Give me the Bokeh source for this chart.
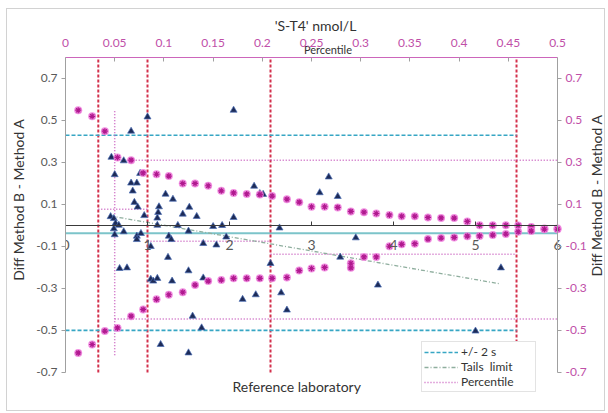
from math import pi

from bokeh.plotting import figure
from bokeh.models import (Range1d, LinearAxis, FixedTicker, Label, Legend,
                          LegendItem)
from bokeh.embed import file_html
from bokeh.resources import INLINE

FONT = "Lato"
GREY_TXT = "#595959"
TITLE_TXT = "#333333"
MAGENTA_TXT = "#c04fa8"

# ---- axis ticks -----------------------------------------------------------
x_ticks = [0, 1, 2, 3, 4, 5, 6]
x_tick_labels = ["0", "1", "2", "3", "4", "5", "6"]
y_ticks = [-0.7, -0.5, -0.3, -0.1, 0.1, 0.3, 0.5, 0.7]
y_tick_labels = ["-0.7", "-0.5", "-0.3", "-0.1", "0.1", "0.3", "0.5", "0.7"]
pct_ticks = [0, 0.05, 0.1, 0.15, 0.2, 0.25, 0.3, 0.35, 0.4, 0.45, 0.5]
pct_tick_labels = ["0", "0.05", "0.1", "0.15", "0.2", "0.25", "0.3", "0.35",
                   "0.4", "0.45", "0.5"]

# ---- paired differences (reference laboratory value, B - A) ---------------
diff_x = [2.05, 1.00, 0.80, 0.56, 0.71, 0.60, 0.91, 0.80, 0.87, 0.82,
          1.22, 1.31, 0.84, 0.88, 1.14, 1.51, 2.30, 0.96, 1.13, 1.12,
          1.12, 1.43, 1.60, 1.37, 0.55, 0.59, 0.61, 0.65, 0.59, 0.71,
          0.60, 0.87, 0.92, 0.87, 1.26, 1.29, 1.04, 1.80, 1.91, 1.84,
          1.96, 1.68, 1.50, 2.05, 1.25, 0.66, 0.75, 1.04, 1.07, 1.12,
          1.30, 1.50, 1.68, 1.55, 1.66, 1.16, 1.50, 2.16, 2.32, 2.37,
          2.41, 2.61, 2.50, 2.63, 2.70, 3.10, 3.21, 3.32, 3.54, 3.35,
          3.81, 5.31, 5.00]
diff_y = [0.549, 0.517, 0.449, 0.325, 0.308, 0.242, 0.248, 0.202, 0.202, 0.164,
          0.149, 0.125, 0.110, 0.088, 0.089, 0.087, 0.187, 0.047, 0.062, 0.035,
          0.001, 0.054, 0.043, 0.000, 0.042, 0.033, 0.010, 0.001, -0.016, -0.030,
          -0.044, -0.051, -0.038, -0.067, -0.051, -0.067, -0.100, -0.005, 0.000, -0.093,
          -0.055, -0.086, -0.027, 0.038, -0.152, -0.205, -0.202, -0.256, -0.265, -0.252,
          -0.265, -0.216, -0.250, -0.432, -0.488, -0.567, -0.607, -0.352, -0.330, 0.152,
          0.148, -0.012, -0.181, -0.321, -0.403, 0.156, 0.231, 0.138, -0.059, -0.151,
          -0.284, -0.202, -0.503]

# ---- percentile curves -----------------------------------------------------
pct_x = [0.155, 0.325, 0.48, 0.634, 0.80, 0.947, 1.11, 1.26, 1.43, 1.58,
         1.74, 1.90, 2.05, 2.21, 2.37, 2.52, 2.70, 2.85, 3.00, 3.16,
         3.32, 3.48, 3.64, 3.79, 3.95, 4.10, 4.26, 4.42, 4.58, 4.74,
         4.90, 5.05, 5.21, 5.37, 5.52, 5.68, 5.84, 6.00]
pct_upper = [0.549, 0.52, 0.449, 0.324, 0.311, 0.25, 0.244, 0.235, 0.20, 0.20,
             0.189, 0.165, 0.155, 0.15, 0.147, 0.14, 0.125, 0.111, 0.089, 0.089,
             0.086, 0.067, 0.063, 0.057, 0.05, 0.044, 0.044, 0.038, 0.036, 0.035,
             0.019, 0.001, 0.001, 0.001, 0.0, -0.007, -0.014, -0.014]
pct_lower_x = [0.155, 0.325, 0.48, 0.634, 0.80, 0.947, 1.11, 1.26, 1.43, 1.58,
               1.74, 1.90, 2.05, 2.21, 2.37, 2.52, 2.70, 2.85, 3.00, 3.16,
               3.48, 3.48, 3.64, 3.79, 3.95, 4.10, 4.26, 4.42, 4.58, 4.74,
               4.90, 5.05, 5.21, 5.37, 5.52, 5.68, 5.84, 6.00]
pct_lower = [-0.607, -0.567, -0.503, -0.488, -0.432, -0.40, -0.352, -0.33, -0.318, -0.284,
             -0.265, -0.26, -0.252, -0.252, -0.252, -0.252, -0.248, -0.215, -0.205, -0.20,
             -0.202, -0.18, -0.15, -0.15, -0.099, -0.09, -0.087, -0.065, -0.06, -0.057,
             -0.051, -0.05, -0.046, -0.041, -0.03, -0.027, -0.018, -0.018]

# ---- reference lines -------------------------------------------------------
mean_diff = -0.037
sd2_upper = 0.43
sd2_lower = -0.50
sd2_end = 5.5
limit_x = [0.4, 1.0, 2.5, 5.5]
tails_x = [0.55, 5.3]
tails_y = [0.045, -0.278]
pband_x0 = [0.6, 0.4, 1.0, 2.5, 0.6]
pband_x1 = [6.0, 1.0, 2.5, 5.5, 6.0]
pband_y = [0.31, 0.077, -0.075, -0.137, -0.446]
pvert_x = 0.6
pvert_y = [-0.618, 0.546]

X_MIN, X_MAX = 0, 6             # extent of the reference-laboratory axis
X_VIEW_HI = 6.573               # room at the right for the secondary axis
PCT_MIN, PCT_MAX = 0, 0.5       # percentile axis spans the same width
Y_LO, Y_HI = -0.7, 0.8          # extent of the value axes
Y_VIEW_LO = -0.81               # room below for legend and x title

# axis titles; no-break spaces shift the visible words away from the middle
# of the (wider) frame so they sit over the axes themselves
NBSP = "\u00a0"
Y_TITLE = "Diff Method B - Method A"
Y_TITLE_LEFT = NBSP * 15 + Y_TITLE
TOP_TITLE = "'S-T4' nmol/L" + NBSP * 11
PCT_TITLE = "Percentile" + NBSP * 5

p = figure(width=596, height=401, frame_width=539, frame_height=338,
           x_range=Range1d(X_MIN, X_VIEW_HI), y_range=Range1d(Y_VIEW_LO, Y_HI),
           output_backend="svg", toolbar_location=None, title_location=None,
           min_border_left=57, min_border_right=0, min_border_top=48,
           min_border_bottom=15, outline_line_color=None,
           background_fill_color="white", border_fill_color="white")
p.margin = (9, 5, 3, 7)
p.styles = {"outline": "1px solid #d2d2d2"}
p.grid.visible = False
p.extra_x_ranges = {"pct": Range1d(PCT_MIN, PCT_MAX * X_VIEW_HI / X_MAX)}

# x axis sits on the zero line
xa = p.xaxis[0]
xa.fixed_location = 0
xa.bounds = (X_MIN, X_MAX)
xa.ticker = FixedTicker(ticks=x_ticks)
xa.major_label_overrides = dict(zip(x_ticks, x_tick_labels))
xa.axis_line_color = "#3a3a3a"
xa.major_tick_line_color = "#3a3a3a"
xa.major_tick_in = 4
xa.major_tick_out = 0
xa.minor_tick_line_color = None
xa.major_label_standoff = 15
xa.major_label_text_font = FONT
xa.major_label_text_font_size = "14px"
xa.major_label_text_color = GREY_TXT


def style_y(ax, label_color):
    ax.bounds = (Y_LO, Y_HI)
    ax.ticker = FixedTicker(ticks=y_ticks)
    ax.major_label_overrides = dict(zip(y_ticks, y_tick_labels))
    ax.axis_line_color = "#a0a0a0"
    ax.major_tick_line_color = "#a0a0a0"
    ax.major_tick_in = 0
    ax.major_tick_out = 4
    ax.minor_tick_line_color = None
    ax.major_label_standoff = 4
    ax.major_label_text_font = FONT
    ax.major_label_text_font_size = "12px"
    ax.major_label_text_color = label_color


ya = p.yaxis[0]
style_y(ya, GREY_TXT)
ya.axis_label = Y_TITLE_LEFT
ya.axis_label_text_font = FONT
ya.axis_label_text_font_size = "14px"
ya.axis_label_text_font_style = "normal"
ya.axis_label_text_color = TITLE_TXT
ya.axis_label_standoff = 6

# secondary value axis drawn at the right end of the x scale
yr = LinearAxis(fixed_location=X_MAX)
style_y(yr, MAGENTA_TXT)
p.add_layout(yr, "right")

# top: frame line with inward percentile ticks and its title ...
xt_line = LinearAxis(x_range_name="pct", bounds=(PCT_MIN, PCT_MAX))
xt_line.ticker = FixedTicker(ticks=[], minor_ticks=pct_ticks)
xt_line.axis_line_color = "#cc66bb"
xt_line.minor_tick_line_color = "#a0a0a0"
xt_line.minor_tick_in = 4
xt_line.minor_tick_out = 0
xt_line.major_tick_line_color = None
xt_line.major_label_standoff = 0
xt_line.axis_label = PCT_TITLE
xt_line.axis_label_standoff = 2
xt_line.axis_label_text_font = FONT
xt_line.axis_label_text_font_size = "11px"
xt_line.axis_label_text_font_style = "normal"
xt_line.axis_label_text_color = TITLE_TXT
p.add_layout(xt_line, "above")

# ... and above it the percentile tick labels with the unit title
xt = LinearAxis(x_range_name="pct", bounds=(PCT_MIN, PCT_MAX))
xt.ticker = FixedTicker(ticks=pct_ticks)
xt.major_label_overrides = dict(zip(pct_ticks, pct_tick_labels))
xt.axis_line_color = None
xt.major_tick_line_color = None
xt.major_tick_in = 0
xt.major_tick_out = 0
xt.minor_tick_line_color = None
xt.major_label_standoff = -7
xt.major_label_text_font = FONT
xt.major_label_text_font_size = "12px"
xt.major_label_text_color = MAGENTA_TXT
xt.axis_label = TOP_TITLE
xt.axis_label_standoff = 2
xt.axis_label_text_font = FONT
xt.axis_label_text_font_size = "14px"
xt.axis_label_text_font_style = "normal"
xt.axis_label_text_color = TITLE_TXT
p.add_layout(xt, "above")

# ---- lines -----------------------------------------------------------------
p.segment(x0=[X_MIN], x1=[X_MAX], y0=[mean_diff], y1=[mean_diff],
          line_color="#7cc4ca", line_width=2)
p.segment(x0=limit_x, x1=limit_x, y0=[Y_LO] * len(limit_x),
          y1=[Y_HI] * len(limit_x), line_color="#d3304c", line_width=2,
          line_dash="3 2")

r_sd = p.segment(x0=[X_MIN, X_MIN], x1=[sd2_end, sd2_end],
                 y0=[sd2_upper, sd2_lower], y1=[sd2_upper, sd2_lower],
                 line_color="#37a6c4", line_width=1.6, line_dash="4 2")
r_pct = p.segment(x0=pband_x0, x1=pband_x1, y0=pband_y, y1=pband_y,
                  line_color="#c95fbf", line_width=1.5, line_dash="1 2")
p.segment(x0=[pvert_x], x1=[pvert_x], y0=[pvert_y[0]], y1=[pvert_y[1]],
          line_color="#c95fbf", line_width=1.5, line_dash="1 2")
r_tail = p.line(tails_x, tails_y, line_color="#8fae9e", line_width=1.3,
                line_dash="4 2 1 2")

# ---- points ----------------------------------------------------------------
p.scatter(diff_x, diff_y, marker="triangle", size=7, fill_color="#1d2b57",
          line_color="#4a6db5", line_width=0.7)
for xs, ys in ((pct_x, pct_upper), (pct_lower_x, pct_lower)):
    p.scatter(xs, ys, marker="circle", size=8, fill_color="#ee7ddc",
              fill_alpha=0.85, line_color=None)
    p.scatter(xs, ys, marker="asterisk", size=6, line_color="#b0198f",
              line_width=1.2)

# ---- legend ----------------------------------------------------------------
legend = Legend(items=[LegendItem(label="+/- 2 s", renderers=[r_sd]),
                       LegendItem(label="Tails  limit", renderers=[r_tail]),
                       LegendItem(label="Percentile", renderers=[r_pct])],
                location=(356, 3), padding=2, spacing=0, margin=0,
                glyph_width=34, glyph_height=14, label_height=14,
                label_width=72, label_standoff=3,
                label_text_font=FONT, label_text_font_size="12px",
                label_text_color=TITLE_TXT,
                border_line_color="#c8c8c8", background_fill_color="white",
                background_fill_alpha=1.0)
p.add_layout(legend)

# titles placed in the open strips of the frame
title_kw = dict(text_font=FONT, text_font_size="14px", text_color=TITLE_TXT,
                text_align="center", text_baseline="middle")
p.add_layout(Label(x=6.476, y=0.143, text=Y_TITLE, angle=pi / 2, **title_kw))
p.add_layout(Label(x=2.82, y=-0.769, text="Reference laboratory", **title_kw))

open("out.html", "w").write(file_html(p, INLINE))
